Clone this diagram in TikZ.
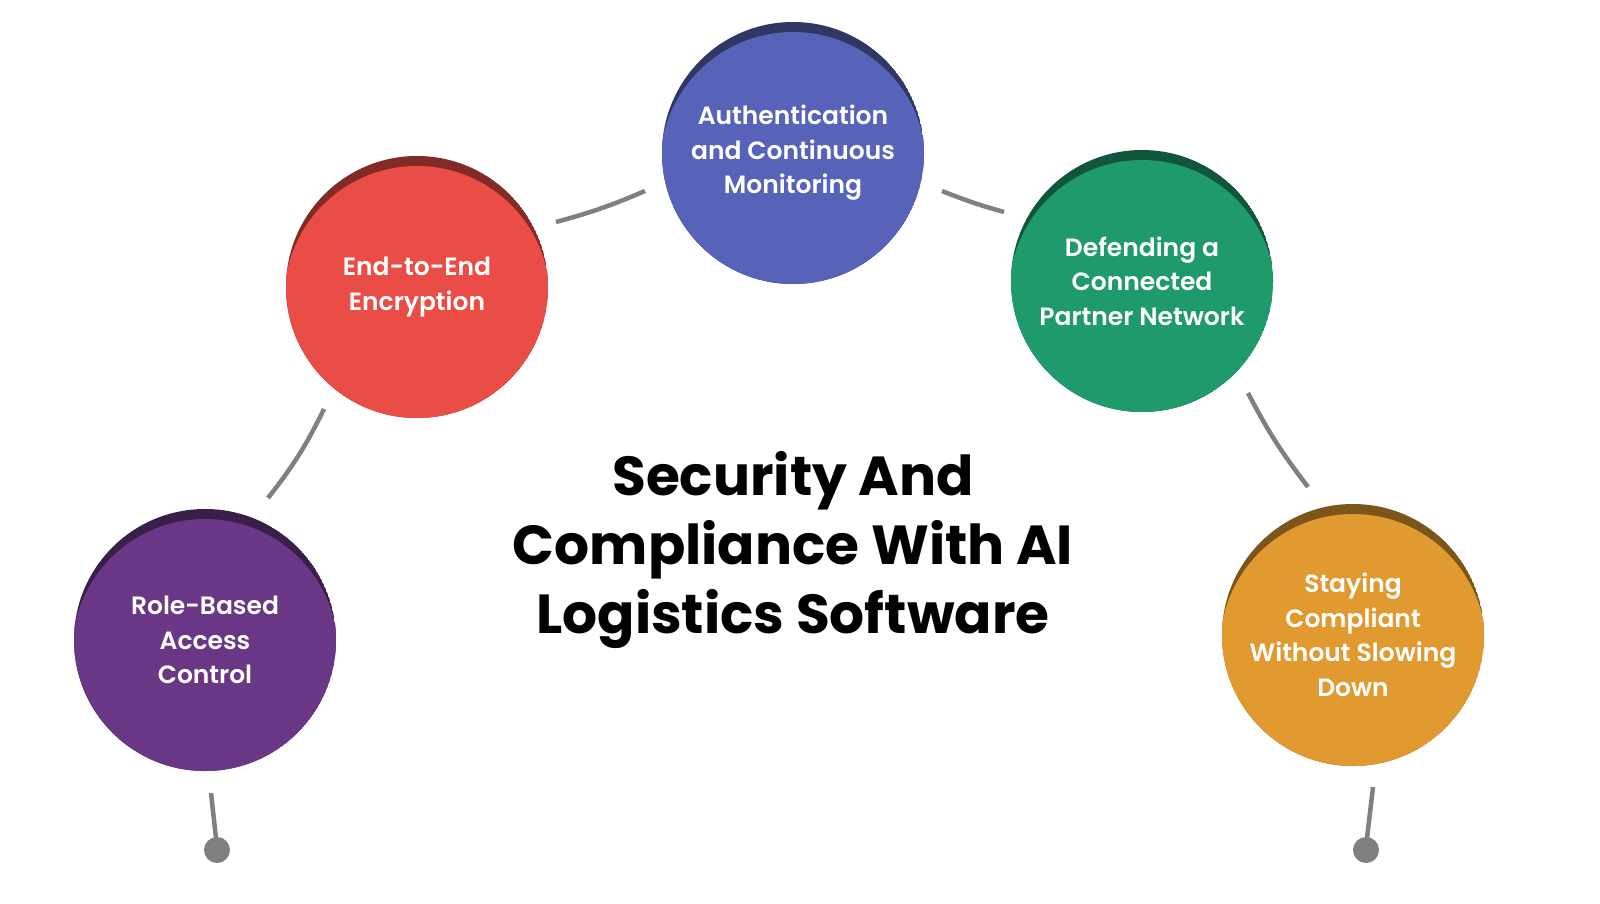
\documentclass[tikz,border=0pt]{standalone}
\usepackage{fontspec}
\setmainfont{Poppins}[UprightFont=* SemiBold,BoldFont=* Bold]
\usetikzlibrary{calc}
\begin{document}
\begin{tikzpicture}[x=1pt,y=-1pt]
\definecolor{cpur}{HTML}{6A3787}
\definecolor{cred}{HTML}{EA4D45}
\definecolor{cblu}{HTML}{5763B8}
\definecolor{cgrn}{HTML}{1E9A6B}
\definecolor{corg}{HTML}{E19A30}
\definecolor{clink}{HTML}{808080}
\tikzset{
  lbl/.style={text=white,align=center,font=\fontsize{25}{34.5}\selectfont},
  link/.style={draw=clink,line width=4.5pt},
  dot/.style={circle,fill=clink,inner sep=0pt,minimum size=26pt}
}
\fill[white] (0,0) rectangle (1600,904);
\newcommand{\bub}[4]{%
  \begin{scope}
    \clip (#2) circle (131);
    \fill[#3!55!black] (#2) circle (131);
    \fill[#3] ($(#2)+(0,12)$) circle (133);
  \end{scope}
  \node[lbl] (#1) at (#2) {#4};
}
\coordinate (pP) at (205,640);
\coordinate (pR) at (417,287);
\coordinate (pB) at (793,153);
\coordinate (pG) at (1142,281);
\coordinate (pO) at (1353,635);
\bub{nP}{pP}{cpur}{Role-Based\\Access\\Control}
\bub{nR}{pR}{cred}{End-to-End\\Encryption}
\bub{nB}{pB}{cblu}{Authentication\\and Continuous\\Monitoring}
\bub{nG}{pG}{cgrn}{Defending a\\Connected\\Partner Network}
\bub{nO}{pO}{corg}{Staying\\Compliant\\Without Slowing\\Down}
\coordinate (a1) at (268,498); \coordinate (a2) at (324,409);
\coordinate (b1) at (556,222); \coordinate (b2) at (645,191);
\coordinate (c1) at (942,191); \coordinate (c2) at (1004,212);
\coordinate (d1) at (1248,393); \coordinate (d2) at (1308,487);
\coordinate (e1) at (211,793); \coordinate (e2) at (216,838);
\coordinate (f1) at (1373,787); \coordinate (f2) at (1367,838);
\draw[link] (a1) to[bend right=6] (a2);
\draw[link] (b1) to[bend right=4] (b2);
\draw[link] (c1) to[bend right=3] (c2);
\draw[link] (d1) to[bend right=5] (d2);
\draw[link] (e1) -- (e2);
\draw[link] (f1) -- (f2);
\node[dot] (dL) at (217,850) {};
\node[dot] (dR) at (1366,850) {};
\node[align=center,font=\bfseries\fontsize{55}{69}\selectfont] (title) at (793,550)
  {Security And\\Compliance With AI\\Logistics Software};
\pgfresetboundingbox
\useasboundingbox (0,0) rectangle (1600,904);
\end{tikzpicture}
\end{document}
